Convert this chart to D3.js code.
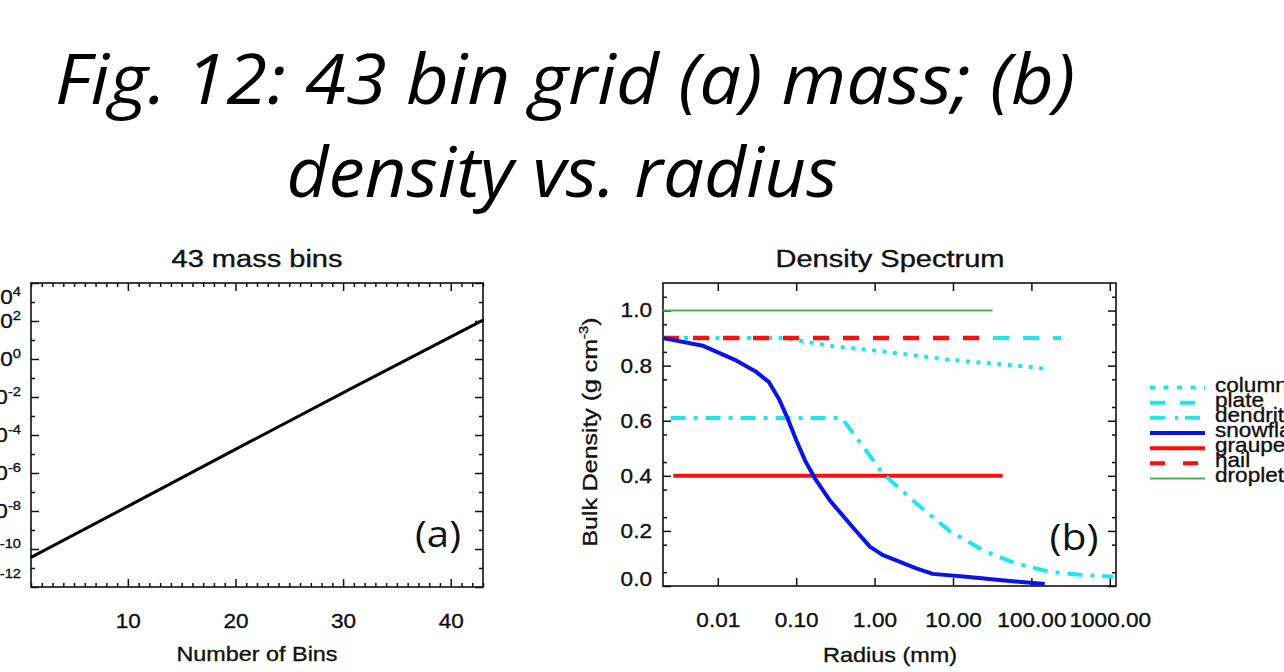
<!DOCTYPE html>
<html><head><meta charset="utf-8">
<script src="https://cdn.jsdelivr.net/npm/d3@7"></script>
<style>body{margin:0;background:#fff;overflow:hidden} svg{display:block}</style>
</head><body>
<svg id="c" width="1284" height="672"></svg>
<script>
// ---------- data ----------
const titleLines = ["Fig. 12: 43 bin grid (a) mass; (b)", "density vs. radius"];

// panel (a)
const binNumbers = [1, 11, 21, 31, 43];
const binMass = [3.6e-11, 3.5e-8, 3.5e-5, 3.3e-2, 112];
const binTicks = [10, 20, 30, 40];
const massTickExponents = [4, 2, 0, -2, -4, -6, -8, -10, -12];

// panel (b)
const radiusTicks = [0.01, 0.1, 1, 10, 100, 1000];
const densityTicks = [0, 0.2, 0.4, 0.6, 0.8, 1.0];

const columnRadius = [0.002, 0.07, 0.3, 1, 10, 100, 160];
const columnDensity = [0.9, 0.9, 0.87, 0.855, 0.82, 0.795, 0.787];
const plateRadius = [0.002, 240];
const plateDensity = [0.9, 0.9];
const dendriteRadius = [0.0025, 0.38, 0.7, 1.26, 3.4, 9, 24, 63, 170, 450, 1100];
const dendriteDensity = [0.61, 0.61, 0.51, 0.41, 0.30, 0.20, 0.13, 0.082, 0.052, 0.04, 0.034];
const snowflakeRadius = [0.002, 0.0065, 0.0174, 0.03, 0.045, 0.06, 0.076, 0.1, 0.13, 0.174, 0.27, 0.52, 0.87, 1.26, 3.4, 5.5, 14.8, 39, 148];
const snowflakeDensity = [0.9, 0.872, 0.818, 0.78, 0.74, 0.68, 0.615, 0.53, 0.455, 0.39, 0.31, 0.215, 0.143, 0.113, 0.064, 0.044, 0.034, 0.022, 0.007];
const graupelRadius = [0.0027, 43];
const graupelDensity = [0.4, 0.4];
const hailRadius = [0.002, 30];
const hailDensity = [0.9, 0.9];
const dropletRadius = [0.002, 32];
const dropletDensity = [1.0, 1.0];

const habitNames = ["column", "plate", "dendrite", "snowflake", "graupel", "hail", "droplet"];

// ---------- drawing ----------
const svg = d3.select("#c");
const F = "'Liberation Sans', Arial, Helvetica, sans-serif";
const SX = 1.13;
const INK = "#111";
const CYAN = "#1ee6ef", BLUE = "#0a14e8", RED = "#ff0d0d", GREEN = "#4caf50";

// big title
svg.append("text").attr("x", 565).attr("y", 104).attr("text-anchor", "middle")
  .attr("font-family", "'Open Sans', 'Noto Sans', sans-serif").attr("font-style", "italic")
  .attr("font-size", 70).attr("textLength", 1020).attr("lengthAdjust", "spacingAndGlyphs")
  .attr("fill", "#000").text(titleLines[0]);
svg.append("text").attr("x", 562).attr("y", 197).attr("text-anchor", "middle")
  .attr("font-family", "'Open Sans', 'Noto Sans', sans-serif").attr("font-style", "italic")
  .attr("font-size", 70).attr("textLength", 551).attr("lengthAdjust", "spacingAndGlyphs")
  .attr("fill", "#000").text(titleLines[1]);

function axisTicks(g, axisFn, scale, values, size, fmt, pad) {
  const a = axisFn(scale).tickValues(values).tickSizeInner(-size).tickSizeOuter(0)
    .tickPadding(pad || 0).tickFormat(fmt || (() => ""));
  g.call(a);
  g.select(".domain").remove();
  g.attr("font-family", F).attr("font-size", 20);
  g.selectAll(".tick line").attr("stroke", INK).attr("stroke-width", 1.5);
  g.selectAll(".tick text").attr("fill", INK).attr("stroke", INK).attr("stroke-width", 0.35)
    .attr("transform", `scale(${SX},1)`);
  return g;
}
function textL(x, y, str, size, width, anchor) {
  const t = svg.append("text").attr("x", x).attr("y", y).attr("text-anchor", anchor || "middle")
    .attr("font-family", F).attr("font-size", size).attr("fill", INK)
    .attr("stroke", INK).attr("stroke-width", 0.35).text(str);
  if (width) t.attr("textLength", width).attr("lengthAdjust", "spacingAndGlyphs");
  return t;
}

// ===== Panel (a) =====
const xL = d3.scaleLinear().domain([1, 43]).range([31, 483]);
const yL = d3.scaleLog().domain([1e-12, 1e4]).range([587, 283]);

const minorBins = d3.range(1, 44).filter(v => v % 10 !== 0);
axisTicks(svg.append("g").attr("transform", "translate(0,587)"), d3.axisBottom, xL, binTicks, 8, d3.format("d"), 27);
axisTicks(svg.append("g").attr("transform", "translate(0,587)"), d3.axisBottom, xL, minorBins, 4);
axisTicks(svg.append("g").attr("transform", "translate(0,283)"), d3.axisTop, xL, binTicks, 8);
axisTicks(svg.append("g").attr("transform", "translate(0,283)"), d3.axisTop, xL, minorBins, 4);

const massMajor = massTickExponents.map(e => Math.pow(10, e));
const massMinor = d3.range(-11, 4, 2).map(e => Math.pow(10, e));
const gyl = axisTicks(svg.append("g").attr("transform", "translate(31,0)"), d3.axisLeft, yL, massMajor, 8, () => "x", 10 / SX);
gyl.selectAll(".tick text").each(function (d) {
  const e = Math.round(Math.log10(d));
  const t = d3.select(this);
  t.text("");
  t.append("tspan").text("10");
  t.append("tspan").attr("font-size", 13).attr("dy", -8).text(String(e));
  let shift = 0;
  if (e === 4) shift = 14;
  if (e === -12) shift = -8;
  t.attr("transform", `translate(0,${shift}) scale(${SX},1)`);
});
axisTicks(svg.append("g").attr("transform", "translate(31,0)"), d3.axisLeft, yL, massMinor, 4);
axisTicks(svg.append("g").attr("transform", "translate(483,0)"), d3.axisRight, yL, massMajor, 8);
axisTicks(svg.append("g").attr("transform", "translate(483,0)"), d3.axisRight, yL, massMinor, 4);

svg.append("rect").attr("x", 31).attr("y", 283).attr("width", 452).attr("height", 304)
  .attr("fill", "none").attr("stroke", INK).attr("stroke-width", 1.6);

svg.append("path").datum(d3.zip(binNumbers, binMass))
  .attr("d", d3.line().x(d => xL(d[0])).y(d => yL(d[1])))
  .attr("fill", "none").attr("stroke", "#000").attr("stroke-width", 3);

textL(257, 267, "43 mass bins", 23, 171);
textL(257, 661, "Number of Bins", 21, 161);
svg.append("text").attr("x", 438).attr("y", 547).attr("text-anchor", "middle")
  .attr("font-family", "'Open Sans', sans-serif").attr("font-size", 36).attr("fill", "#111")
  .attr("textLength", 46).attr("lengthAdjust", "spacingAndGlyphs").text("(a)");

// ===== Panel (b) =====
const xR = d3.scaleLog().domain([0.002, 1200]).range([663, 1116]);
const yR = d3.scaleLinear().domain([0, 1.1]).range([586, 283]);

axisTicks(svg.append("g").attr("transform", "translate(0,586)"), d3.axisBottom, xR, radiusTicks, 8, d3.format(".2f"), 27);
axisTicks(svg.append("g").attr("transform", "translate(0,283)"), d3.axisTop, xR, radiusTicks, 8);
const densMinor = d3.range(0.05, 1.1, 0.1).map(v => +v.toFixed(2));
const gyr = axisTicks(svg.append("g").attr("transform", "translate(663,0)"), d3.axisLeft, yR, densityTicks, 8, d3.format(".1f"), 11 / SX);
gyr.selectAll(".tick text").filter(d => d === 0).attr("transform", `translate(0,-7) scale(${SX},1)`);
axisTicks(svg.append("g").attr("transform", "translate(663,0)"), d3.axisLeft, yR, densMinor, 4);
axisTicks(svg.append("g").attr("transform", "translate(1116,0)"), d3.axisRight, yR, densityTicks, 8);
axisTicks(svg.append("g").attr("transform", "translate(1116,0)"), d3.axisRight, yR, densMinor, 4);

svg.append("rect").attr("x", 663).attr("y", 283).attr("width", 453).attr("height", 303)
  .attr("fill", "none").attr("stroke", INK).attr("stroke-width", 1.6);

const lineR = d3.line().x(d => xR(d[0])).y(d => yR(d[1]));
const series = [
  { name: "droplet", r: dropletRadius, v: dropletDensity, color: GREEN, w: 2, dash: null },
  { name: "graupel", r: graupelRadius, v: graupelDensity, color: RED, w: 4, dash: null },
  { name: "column", r: columnRadius, v: columnDensity, color: CYAN, w: 4, dash: "4,6.5" },
  { name: "plate", r: plateRadius, v: plateDensity, color: CYAN, w: 4, dash: "16,14" },
  { name: "hail", r: hailRadius, v: hailDensity, color: RED, w: 4.5, dash: "16,14" },
  { name: "dendrite", r: dendriteRadius, v: dendriteDensity, color: CYAN, w: 4, dash: "15,8,4,8" },
  { name: "snowflake", r: snowflakeRadius, v: snowflakeDensity, color: BLUE, w: 4, dash: null },
];
series.forEach(s => {
  svg.append("path").datum(d3.zip(s.r, s.v)).attr("d", lineR)
    .attr("fill", "none").attr("stroke", s.color).attr("stroke-width", s.w)
    .attr("stroke-dasharray", s.dash).attr("stroke-linejoin", "round");
});

textL(890, 267, "Density Spectrum", 23, 229);
textL(890, 662, "Radius (mm)", 21, 134);
const yl = svg.append("text").attr("transform", "translate(597,432) rotate(-90)")
  .attr("text-anchor", "middle").attr("font-family", F).attr("font-size", 20).attr("fill", INK)
  .attr("stroke", INK).attr("stroke-width", 0.35)
  .attr("textLength", 229).attr("lengthAdjust", "spacingAndGlyphs");
yl.append("tspan").text("Bulk Density (g cm");
yl.append("tspan").attr("font-size", 12).attr("dy", -9).text("-3");
yl.append("tspan").attr("dy", 9).text(")");

svg.append("text").attr("x", 1074).attr("y", 550).attr("text-anchor", "middle")
  .attr("font-family", "'Open Sans', sans-serif").attr("font-size", 36).attr("fill", "#111")
  .attr("textLength", 49).attr("lengthAdjust", "spacingAndGlyphs").text("(b)");

// legend
const legendStyle = {
  column: { color: CYAN, w: 4, dash: "5,8.5" },
  plate: { color: CYAN, w: 4, dash: "15,15" },
  dendrite: { color: CYAN, w: 4, dash: "15,10,3,7" },
  snowflake: { color: BLUE, w: 4, dash: null },
  graupel: { color: RED, w: 4, dash: null },
  hail: { color: RED, w: 4, dash: "15,18" },
  droplet: { color: GREEN, w: 2, dash: null },
};
const legY = d3.scaleBand().domain(habitNames).range([380, 486]);
habitNames.forEach(n => {
  const y = legY(n) + legY.bandwidth() / 2;
  const st = legendStyle[n];
  svg.append("line").attr("x1", 1150).attr("x2", 1205).attr("y1", y).attr("y2", y)
    .attr("stroke", st.color).attr("stroke-width", st.w).attr("stroke-dasharray", st.dash);
  svg.append("text").attr("transform", `translate(1215,${y + 4}) scale(${SX},1)`)
    .attr("font-family", F).attr("font-size", 20).attr("fill", INK)
    .attr("stroke", INK).attr("stroke-width", 0.35).text(n);
});
</script>
</body></html>
